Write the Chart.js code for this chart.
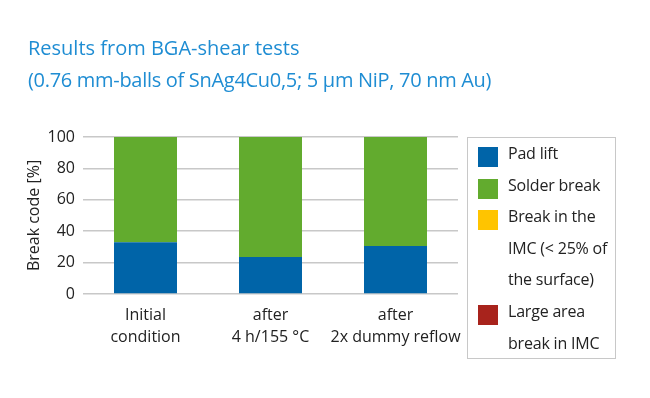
<!DOCTYPE html>
<html>
<head>
<meta charset="utf-8">
<script src="https://cdn.jsdelivr.net/npm/chart.js@4"></script>
<style>
  body { margin: 0; background: #fff; }
  #wrap { position: relative; width: 650px; height: 398px; font-family: "Open Sans", sans-serif; }
  .title { position: absolute; left: 28px; color: #1f8dd3; font-size: 20px; white-space: nowrap; }
  #legend { position: absolute; left: 467px; top: 137px; width: 149px; height: 222px;
            border: 1px solid #c8c8c8; box-sizing: border-box; font-size: 16px; color: #222; }
  .item { position: relative; padding-left: 40px; line-height: 31.6px; white-space: nowrap; letter-spacing: -0.2px; }
  .sw { position: absolute; left: 10px; top: 9px; width: 20px; height: 20px; }
</style>
</head>
<body>
<div id="wrap">
  <div class="title" style="top:34px">Results from BGA-shear tests</div>
  <div class="title" style="top:66px; letter-spacing:-0.3px">(0.76 mm-balls of SnAg4Cu0,5; 5 µm NiP, 70 nm Au)</div>
  <canvas id="grafico" width="650" height="398"></canvas>
  <div id="legend"></div>
</div>
<script>
var categorias = [['Initial', 'condition'], ['after', '4 h/155 °C'], ['after', '2x dummy reflow']];
var padLift = [33, 23.5, 30.5];
var solderBreak = [67, 76.5, 69.5];
var breakIMC = [0, 0, 0];
var largeArea = [0, 0, 0];
var yTicks = [0, 20, 40, 60, 80, 100];

var series = [
    { label: 'Pad lift', lines: ['Pad lift'], data: padLift, color: '#0064a8' },
    { label: 'Solder break', lines: ['Solder break'], data: solderBreak, color: '#62ab2e' },
    { label: 'Break in the IMC (< 25% of the surface)', lines: ['Break in the', 'IMC (< 25% of', 'the surface)'], data: breakIMC, color: '#ffc400' },
    { label: 'Large area break in IMC', lines: ['Large area', 'break in IMC'], data: largeArea, color: '#a8231c' }
];

var legend = document.getElementById('legend');
series.forEach(function (s) {
    var div = document.createElement('div');
    div.className = 'item';
    div.innerHTML = '<span class="sw" style="background:' + s.color + '"></span>' + s.lines.join('<br>');
    legend.appendChild(div);
});

var fuente = { family: 'Open Sans', size: 16, lineHeight: 1.4 };

var ctx = document.getElementById('grafico').getContext('2d');
var chart = new Chart(ctx, {
    type: 'bar',
    data: {
        labels: categorias,
        datasets: series.map(function (s) {
            return {
                label: s.label,
                data: s.data,
                backgroundColor: s.color,
                barPercentage: 0.504,
                categoryPercentage: 1
            };
        })
    },
    options: {
        responsive: false,
        animation: false,
        layout: { padding: { left: 25, top: 137, right: 192, bottom: 44 } },
        scales: {
            x: {
                stacked: true,
                grid: { display: false },
                border: { display: false },
                ticks: { color: '#222', font: fuente, padding: 2, maxRotation: 0, autoSkip: false },
                afterFit: function (axis) { axis.height = 60; }
            },
            y: {
                stacked: true,
                min: 0,
                max: 100,
                afterBuildTicks: function (axis) { axis.ticks = yTicks.map(function (v) { return { value: v }; }); },
                title: {
                    display: true,
                    text: 'Break code [%]',
                    color: '#222',
                    font: { family: 'Open Sans', size: 16 },
                    padding: 0
                },
                ticks: { color: '#222', font: { family: 'Open Sans', size: 16 }, padding: 8 },
                grid: { color: '#c8c8c8', lineWidth: 1.5, drawTicks: false },
                border: { display: false },
                afterFit: function (axis) { axis.width = 58; }
            }
        },
        plugins: {
            legend: { display: false },
            tooltip: { enabled: false }
        }
    }
});
</script>
</body>
</html>
